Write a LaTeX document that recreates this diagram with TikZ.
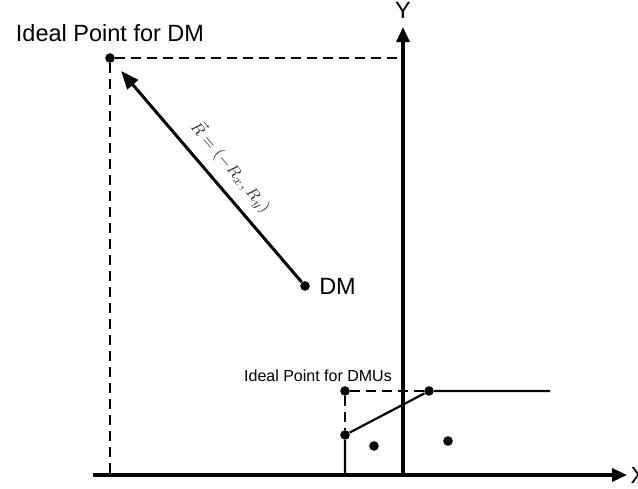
\documentclass[tikz,border=0pt]{standalone}
\usepackage{fontspec}
\setmainfont{Liberation Sans}
\usepackage{tikz}
\usetikzlibrary{arrows.meta, positioning}
\definecolor{labelgray}{RGB}{55,55,55}

\begin{document}
\begin{tikzpicture}[
    x=0.5pt, y=-0.5pt,
    every node/.style={font=\fontsize{11.75}{14}\selectfont},
    dot/.style={circle, fill=black, inner sep=0pt, minimum size=4.8pt},
    axis/.style={line width=1.6pt, -{Triangle[length=7.5pt,width=6.5pt]}},
    guide/.style={line width=1.4pt, dash pattern=on 5pt off 3pt},
    front/.style={line width=1.1pt},
    small/.style={font=\fontsize{8}{10}\selectfont},
    vec/.style={line width=1.5pt, -{Triangle[length=9pt,width=7pt]}, shorten >=6pt}
]

\useasboundingbox (0,0) rectangle (638,488);

\coordinate (xstart) at (93,475);
\coordinate (xend) at (627,475);
\coordinate (ybase) at (403,475);
\coordinate (yend) at (403,27);
\coordinate (ycut) at (403,58);
\coordinate (xcut) at (110,475);
\coordinate (foot) at (345,475);
\coordinate (frontend) at (550,391);

\node[dot] (idealDM) at (110,58) {};
\node[dot] (dm) at (305,286) {};
\node[dot] (idealDMU) at (345,391) {};
\node[dot] (pa) at (345,435) {};
\node[dot] (pb) at (429,391) {};
\node[dot] (da) at (374,446) {};
\node[dot] (db) at (448,441) {};

\node[above=2pt of idealDM] (idealDMlabel) {Ideal Point for DM};
\node[right=1pt of dm] (dmlabel) {DM};
\node[small] (idealDMUlabel) at (318,376) {Ideal Point for DMUs};

\draw[axis] (xstart) -- (xend) node[right, inner sep=1pt] (xlabel) {X};
\draw[axis] (ybase) -- (yend) node[above] (ylabel) {Y};

\draw[guide] (idealDM) -- (ycut);
\draw[guide] (idealDM) -- (xcut);
\draw[guide] (idealDMU) -- (pb);
\draw[guide] (idealDMU) -- (pa);

\draw[front] (foot) -- (pa) -- (pb) -- (frontend);

\draw[vec] (dm) -- (idealDM)
    node[pos=0.46, sloped, above=1.5pt, font=\fontsize{8.5}{10}\selectfont, text=labelgray] (rlabel) {$\vec{R}=\left(-R_x,R_y\right)$};

\end{tikzpicture}
\end{document}
